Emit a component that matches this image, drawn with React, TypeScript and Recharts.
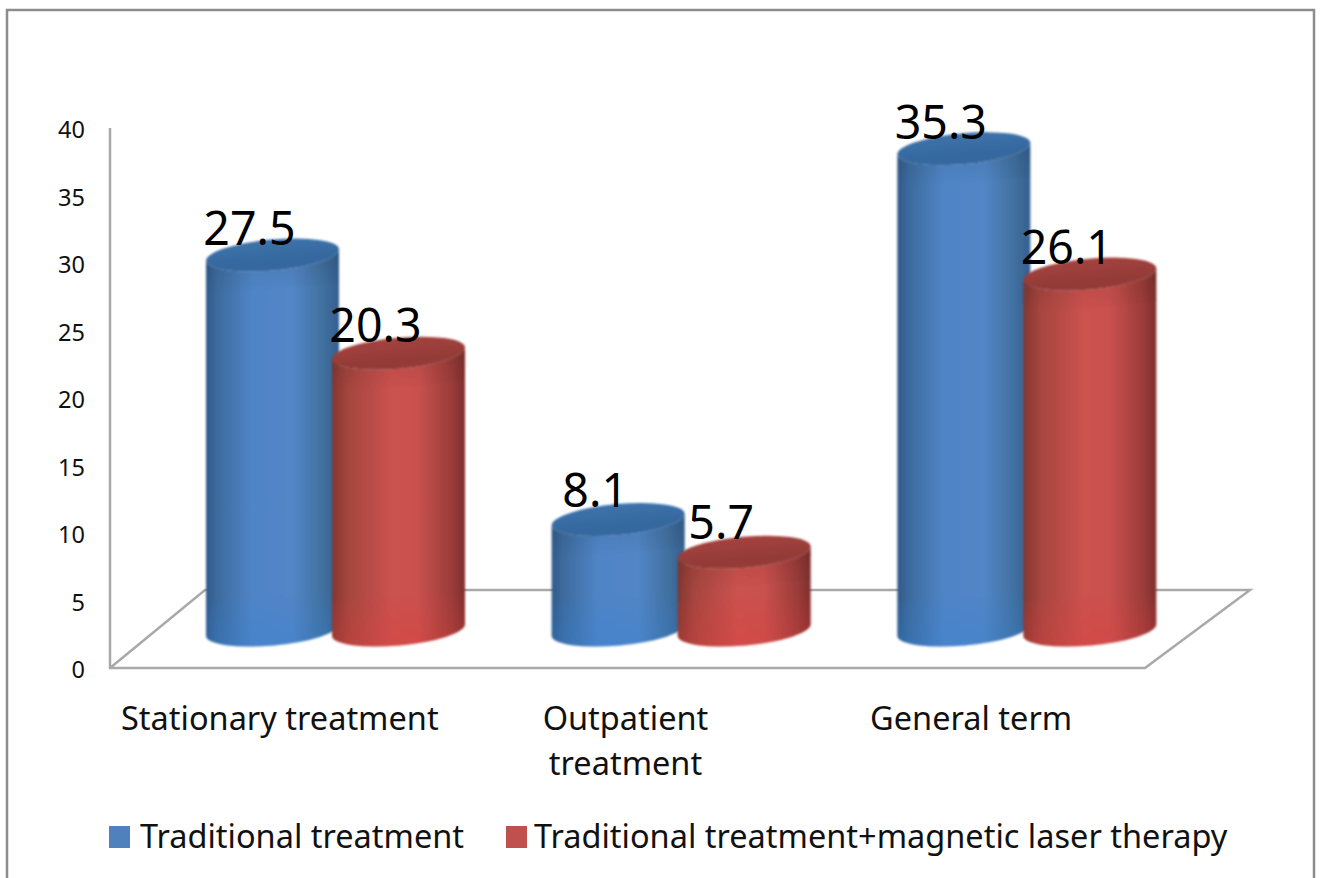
import React from 'react';
import { BarChart, Bar, XAxis, YAxis, LabelList, Legend, Customized } from 'recharts';

const categories = ['Stationary treatment', 'Outpatient treatment', 'General term'];
const categoryLines = [['Stationary treatment'], ['Outpatient', 'treatment'], ['General term']];
const traditional = [27.5, 8.1, 35.3];
const magneticLaser = [20.3, 5.7, 26.1];
const yTicks = [0, 5, 10, 15, 20, 25, 30, 35, 40];
const seriesNames = ['Traditional treatment', 'Traditional treatment+magnetic laser therapy'];
const seriesColors = ['#4f81bd', '#c0504d'];

const rows = categories.map((name, i) => ({ name, a: traditional[i], b: magneticLaser[i] }));

const FONT = '"Noto Sans", sans-serif';
const DEPTH = 38; // perspective shift of the bars above the front floor edge
const STRETCH = 1.01;
const TILT = 6;
const RY = 15.5;

const tones: Record<string, { body: string; cap: string; capEdge: string; foot: string }> = {
  blue: { body: 'bodyBlue', cap: '#35689f', capEdge: '#3e73ab', foot: '#2f80d6' },
  red: { body: 'bodyRed', cap: '#943b37', capEdge: '#a5433f', foot: '#e23c3c' },
};

function Cylinder(props: any) {
  const { x, y, width, height, tone } = props;
  const t = tones[tone];
  const baseY = y + height - DEPTH;
  const topY = baseY - height * STRETCH;
  const rx = Math.sqrt((width / 2) ** 2 + TILT ** 2);
  const right = x + width;
  const rot = (-Math.atan2(TILT, width / 2) * 180) / Math.PI;
  const body = `M${x},${topY + TILT} L${x},${baseY + TILT} A${rx},${RY} ${rot} 0 0 ${right},${baseY - TILT} L${right},${topY - TILT} A${rx},${RY} ${rot} 0 1 ${x},${topY + TILT} Z`;
  const band = Math.min(34, height * 0.45);
  const shade = `M${x},${topY + TILT} L${x},${topY + TILT + band} L${right},${topY - TILT + band} L${right},${topY - TILT} Z`;
  const footTop = baseY - 34;
  const foot = `M${x},${footTop + TILT} L${x},${baseY + TILT} A${rx},${RY} ${rot} 0 0 ${right},${baseY - TILT} L${right},${footTop - TILT} Z`;
  return (
    <g filter="url(#soft)">
      <path d={body} fill={`url(#${t.body})`} />
      <path d={foot} fill={`url(#foot-${tone})`} />
      <path d={shade} fill="url(#capShade)" />
      <ellipse cx={x + width / 2} cy={topY} rx={rx} ry={RY} transform={`rotate(${rot} ${x + width / 2} ${topY})`} fill={`url(#cap-${tone})`} />
    </g>
  );
}

function Backdrop() {
  return (
    <g>
      <rect x={7} y={10} width={1307} height={900} fill="#fff" stroke="#8c8c8c" strokeWidth={2.5} />
      <path d="M110,128 L110,668 L1145,668 L1250,590 L205,590 L110,668" fill="none" stroke="#a9a9a9" strokeWidth={2.5} />
    </g>
  );
}

function DataLabel(props: any) {
  const { x, y, width, value } = props;
  return (
    <text x={x + width / 2 - 23} y={y - 52} textAnchor="middle" fontFamily={FONT} fontSize={46.5} fill="#000">
      {value}
    </text>
  );
}

function CategoryTick(props: any) {
  const { x, y, index } = props;
  return (
    <text x={x - 56} textAnchor="middle" fontFamily={FONT} fontSize={32.5} fill="#111">
      {categoryLines[index].map((line, i) => (
        <tspan key={line} x={x - 56} y={y + 54 + i * 45}>
          {line}
        </tspan>
      ))}
    </text>
  );
}

function ChartLegend() {
  return (
    <div style={{ position: 'relative', width: 1321, height: 40, fontFamily: FONT, fontSize: 32.5, color: '#111' }}>
      {seriesNames.map((n, i) => (
        <React.Fragment key={n}>
          <span style={{ position: 'absolute', left: [109, 506][i], top: 12, width: 21, height: 22, background: seriesColors[i] }} />
          <span style={{ position: 'absolute', left: [140, 534][i], top: 0, whiteSpace: 'nowrap', lineHeight: '44px' }}>{n}</span>
        </React.Fragment>
      ))}
    </div>
  );
}

function Defs() {
  return (
    <defs>
      <filter id="soft" x="-5%" y="-5%" width="110%" height="110%">
        <feGaussianBlur stdDeviation="0.8" />
      </filter>
      <linearGradient id="bodyBlue" x1="0" y1="0" x2="1" y2="0">
        <stop offset="0" stopColor="#31598a" />
        <stop offset="0.08" stopColor="#3c6a9c" />
        <stop offset="0.35" stopColor="#5085c7" />
        <stop offset="0.65" stopColor="#5286c6" />
        <stop offset="0.88" stopColor="#41709f" />
        <stop offset="1" stopColor="#345f90" />
      </linearGradient>
      <linearGradient id="bodyRed" x1="0" y1="0" x2="1" y2="0">
        <stop offset="0" stopColor="#83372f" />
        <stop offset="0.12" stopColor="#a5453f" />
        <stop offset="0.45" stopColor="#cb524e" />
        <stop offset="0.65" stopColor="#c9514e" />
        <stop offset="0.9" stopColor="#9a3c39" />
        <stop offset="1" stopColor="#7f2f2e" />
      </linearGradient>
      <linearGradient id="capShade" x1="0" y1="0" x2="0" y2="1">
        <stop offset="0" stopColor="#000" stopOpacity="0.1" />
        <stop offset="1" stopColor="#000" stopOpacity="0" />
      </linearGradient>
      <linearGradient id="foot-blue" x1="0" y1="0" x2="0" y2="1">
        <stop offset="0" stopColor={tones.blue.foot} stopOpacity="0" />
        <stop offset="1" stopColor={tones.blue.foot} stopOpacity="0.3" />
      </linearGradient>
      <linearGradient id="foot-red" x1="0" y1="0" x2="0" y2="1">
        <stop offset="0" stopColor={tones.red.foot} stopOpacity="0" />
        <stop offset="1" stopColor={tones.red.foot} stopOpacity="0.3" />
      </linearGradient>
      <linearGradient id="cap-blue" x1="0" y1="0" x2="0" y2="1">
        <stop offset="0" stopColor={tones.blue.capEdge} />
        <stop offset="0.7" stopColor={tones.blue.cap} />
        <stop offset="1" stopColor={tones.blue.cap} />
      </linearGradient>
      <linearGradient id="cap-red" x1="0" y1="0" x2="0" y2="1">
        <stop offset="0" stopColor={tones.red.capEdge} />
        <stop offset="0.7" stopColor={tones.red.cap} />
        <stop offset="1" stopColor={tones.red.cap} />
      </linearGradient>
    </defs>
  );
}

export default function App() {
  return (
    <div style={{ position: 'absolute', left: 0, top: 0, width: 1321, height: 878, overflow: 'hidden', background: '#fff' }}>
      <BarChart
        width={1321}
        height={878}
        data={rows}
        barSize={133}
        barGap={-7}
        margin={{ top: 128, right: 121, bottom: 60, left: 0 }}
      >
        <Defs />
        <Customized component={Backdrop} />
        <XAxis dataKey="name" axisLine={false} tickLine={false} height={110} interval={0} tick={CategoryTick} />
        <YAxis
          width={163}
          domain={[0, 40]}
          ticks={yTicks}
          interval={0}
          axisLine={false}
          tickLine={false}
          tickSize={0}
          tickMargin={78}
          tick={{ fontFamily: FONT, fontSize: 23.5, fill: '#111', dy: 2 }}
        />
        <Legend
          verticalAlign="bottom"
          content={ChartLegend}
          wrapperStyle={{ position: 'absolute', left: 0, top: 814, width: 1321, height: 40 }}
        />
        <Bar dataKey="a" name={seriesNames[0]} fill={seriesColors[0]} isAnimationActive={false} shape={(p: any) => <Cylinder {...p} tone="blue" />}>
          <LabelList dataKey="a" content={DataLabel} />
        </Bar>
        <Bar dataKey="b" name={seriesNames[1]} fill={seriesColors[1]} isAnimationActive={false} shape={(p: any) => <Cylinder {...p} tone="red" />}>
          <LabelList dataKey="b" content={DataLabel} />
        </Bar>
      </BarChart>
    </div>
  );
}
